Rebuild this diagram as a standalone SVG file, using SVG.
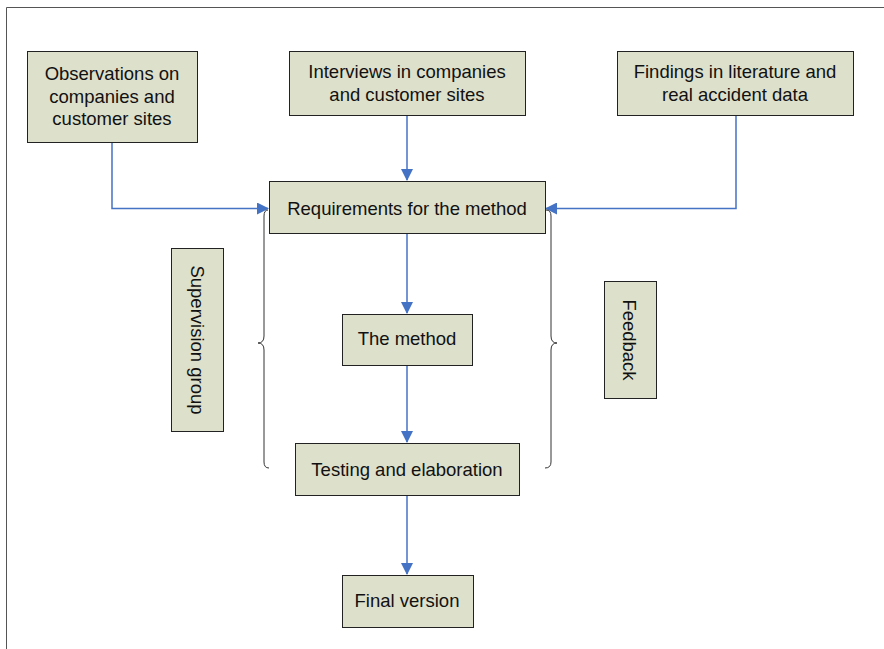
<svg xmlns="http://www.w3.org/2000/svg" width="884" height="649" viewBox="0 0 884 649">
  <defs>
    <marker id="arrow" markerWidth="12" markerHeight="12" refX="11" refY="6" orient="auto" markerUnits="userSpaceOnUse">
      <path d="M0,0 L12,6 L0,12 Z" fill="#4472C4"/>
    </marker>
    <style>
      .box { fill: #DDE0CB; stroke: #222; stroke-width: 1; }
      .lbl { font-family: "Liberation Sans", Arial, sans-serif; font-size: 18.5px; fill: #111; text-anchor: middle; }
      .conn { fill: none; stroke: #4472C4; stroke-width: 1.5; marker-end: url(#arrow); }
      .brace { fill: none; stroke: #333; stroke-width: 1; }
    </style>
  </defs>
  <rect width="884" height="649" fill="#fff"/>
  <!-- outer frame -->
  <path d="M6.5,649 V7.5 H884" fill="none" stroke="#555" stroke-width="1"/>

  <g id="connectors">
    <path class="conn" d="M112,142 V208.5 H268"/>
    <path class="conn" d="M407,116 V180"/>
    <path class="conn" d="M736,116 V208.5 H546"/>
    <path class="conn" d="M407,234 V313"/>
    <path class="conn" d="M407,365 V442"/>
    <path class="conn" d="M407,496 V574"/>
  </g>

  <g id="braces">
    <path class="brace" d="M268,210 Q264,210 264,216 V336 Q264,343 258,343 Q264,343 264,350 V462 Q264,468 269,468"/>
    <path class="brace" d="M546,210 Q551,210 551,216 V336 Q551,343 557,343 Q551,343 551,350 V462 Q551,468 545,468"/>
  </g>

  <g id="observations">
    <rect class="box" x="27.5" y="51.5" width="170" height="91"/>
    <text class="lbl" x="112" y="80">Observations on</text>
    <text class="lbl" x="112" y="103">companies and</text>
    <text class="lbl" x="112" y="125">customer sites</text>
  </g>
  <g id="interviews">
    <rect class="box" x="289.5" y="51.5" width="236" height="64"/>
    <text class="lbl" x="407" y="78">Interviews in companies</text>
    <text class="lbl" x="407" y="101">and customer sites</text>
  </g>
  <g id="findings">
    <rect class="box" x="617.5" y="51.5" width="236" height="64"/>
    <text class="lbl" x="735" y="78">Findings in literature and</text>
    <text class="lbl" x="735" y="101">real accident data</text>
  </g>
  <g id="requirements">
    <rect class="box" x="269.5" y="181.5" width="276" height="52"/>
    <text class="lbl" x="407" y="215">Requirements for the method</text>
  </g>
  <g id="method">
    <rect class="box" x="342.5" y="314.5" width="130" height="51"/>
    <text class="lbl" x="407" y="345">The method</text>
  </g>
  <g id="testing">
    <rect class="box" x="295.5" y="443.5" width="224" height="52"/>
    <text class="lbl" x="407" y="476">Testing and elaboration</text>
  </g>
  <g id="final">
    <rect class="box" x="342.5" y="575.5" width="131" height="52"/>
    <text class="lbl" x="407" y="607">Final version</text>
  </g>
  <g id="supervision">
    <rect class="box" x="171.5" y="248.5" width="52" height="183"/>
    <text class="lbl" transform="translate(191,340) rotate(90)">Supervision group</text>
  </g>
  <g id="feedback">
    <rect class="box" x="604.5" y="281.5" width="52" height="117"/>
    <text class="lbl" transform="translate(623,340) rotate(90)">Feedback</text>
  </g>
</svg>
